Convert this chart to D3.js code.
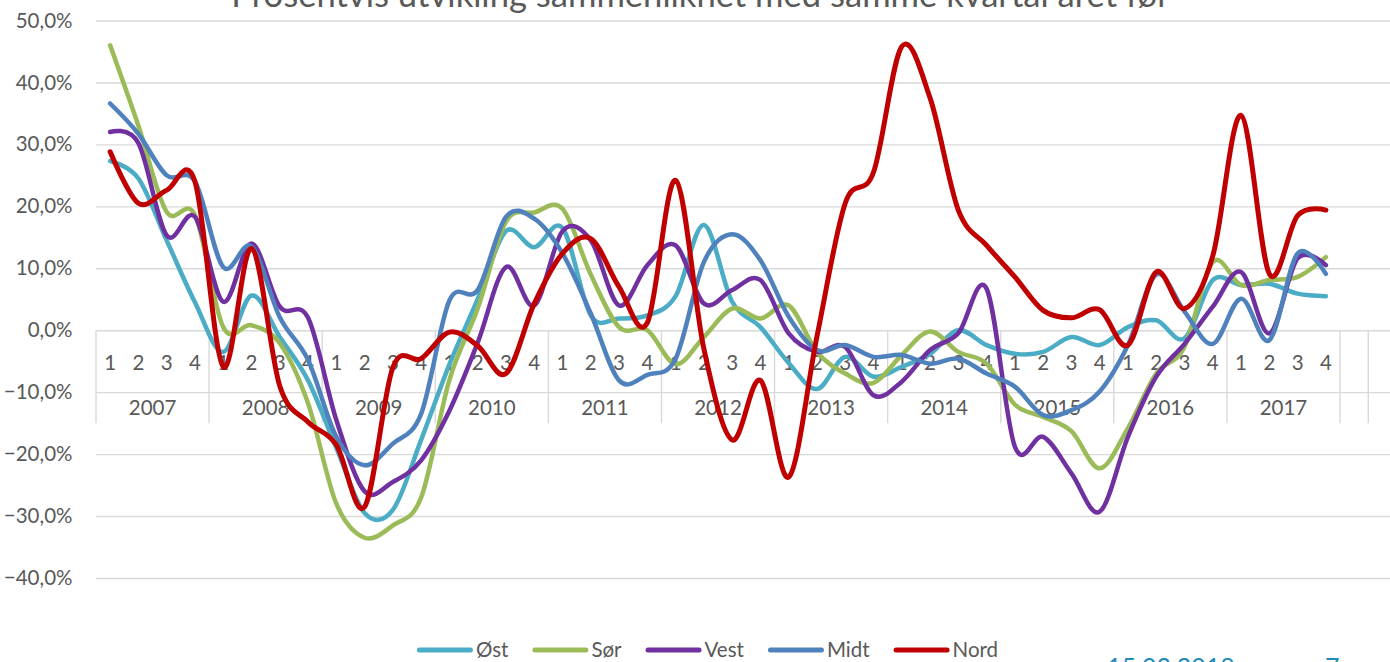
<!DOCTYPE html>
<html>
<head>
<meta charset="utf-8">
<script src="https://cdnjs.cloudflare.com/ajax/libs/d3/7.8.5/d3.min.js"></script>
<style>
  html, body { margin: 0; padding: 0; background: #fff; overflow: hidden; }
  svg { display: block; }
  text { font-family: Lato, "Open Sans", sans-serif; fill: #595959; }
</style>
</head>
<body>
<svg id="chart" width="1390" height="662"></svg>
<script>
// ---------- DATA ----------
const title = "Prosentvis utvikling sammenliknet med samme kvartal året før";
const years = ["2007","2008","2009","2010","2011","2012","2013","2014","2015","2016","2017"];
const quarters = ["1","2","3","4"];
const extraCategories = ["x1","x2"];            // empty trailing categories on the axis
const yTicks = [-40,-30,-20,-10,0,10,20,30,40,50];
const seriesNames = ["Øst","Sør","Vest","Midt","Nord"];
const seriesColors = ["#4BACC6","#9BBB59","#7030A0","#4F81BD","#C00000"];

const ost  = [27.3,24.5,14.5,4.5, -3.5,5.6,-1.1,-8.1, -19,-29.5,-29,-17.7, -5.5,5,16,13.4,
              16.5,2.4,1.9,2.4, 5.5,17,4.6,0.5, -5.3,-9.5,-4.3,-7.5, -5.9,-3.8,0,-2.4,
              -3.8,-3.5,-1.1,-2.4, 0.5,1.6,-1.3,8.1, 7.3,7.5,5.9,5.5];
const sor  = [46,33,19.1,18.6, 0.5,0.8,-2.1,-11.8, -28,-33.5,-31.5,-27, -8,3.5,17.5,19,
              19.6,9,0.5,0, -5.5,-1.1,3.5,1.9, 4,-3.5,-7,-8.5, -4,-0.2,-3.5,-5.4,
              -12,-14,-16.3,-22.3, -15.8,-7,-2.7,11, 7.3,8.1,8.6,11.8];
const vest = [32,30.2,15.3,18.3, 4.6,14,3.8,2, -14.5,-26,-24.5,-21, -13,-2,10.2,4,
              16,14.5,4,10.5, 13.7,4.3,6.5,8.1, -0.5,-3.5,-2.7,-10.5, -8.3,-3.2,-0.5,6.7,
              -18.8,-17.2,-23.1,-29.3, -17.2,-7.5,-2.2,3.8, 9.4,-0.5,11.6,10.5];
const midt = [36.6,31.7,25,24, 10.2,13.5,2.1,-4.8, -17.2,-21.8,-18.3,-13.5, 4.8,6.5,18.3,18,
              12.4,2.7,-8.1,-7.2, -4.6,11,15.5,11.3, 2.2,-3.2,-2.4,-4.3, -4,-5.4,-4.6,-7,
              -9.1,-13.7,-12.9,-9.9, -2.4,9,3,-2.2, 5.1,-1.6,12.4,9.1];
const nord = [28.8,20.5,22.6,24, -5.9,13.2,-9,-14.8, -18.5,-28.5,-6,-4.6, -0.3,-2.5,-7,4.3,
              12.4,14.8,7,1.2, 24.2,-3,-17.7,-8.1, -23.7,-1,20.5,25.5, 45.8,37.5,19.4,13.7,
              8.6,3.2,2,3.3, -2.4,9.4,3.5,12, 34.7,9.1,18.5,19.4];
const seriesValues = [ost, sor, vest, midt, nord];

// ---------- LAYOUT ----------
const svg = d3.select("#chart");
const W = 1390, H = 662;
const plotLeft = 96, quarterW = 28.273;
const categories = years.flatMap(y => quarters.map(q => y + "-" + q)).concat(extraCategories);

const x = d3.scaleBand().domain(categories)
  .range([plotLeft, plotLeft + categories.length * quarterW]).padding(0);
const xc = c => x(c) + x.bandwidth() / 2;
const yearScale = d3.scaleBand().domain(years)
  .range([plotLeft, plotLeft + years.length * 4 * quarterW]).padding(0);
const y = d3.scaleLinear().domain([-40, 50]).range([578, 20.5]);

const fmt = v => d3.format(".1f")(v).replace(".", ",") + "%";

// gridlines + y labels
const yAxis = d3.axisLeft(y).tickValues(yTicks).tickFormat(fmt)
  .tickSize(-(W - plotLeft + 20)).tickPadding(23.5);
const gy = svg.append("g").attr("transform", `translate(${plotLeft},0)`).call(yAxis);
gy.select(".domain").remove();
gy.selectAll(".tick line").attr("stroke", "#d9d9d9").attr("stroke-width", 1.4);
gy.selectAll(".tick text").style("font-size", "20.5px").attr("fill", "#595959")
  .style("font-family", "Lato, sans-serif");

// category separators (year groups + empty trailing categories)
const y0 = y(0);
const bounds = years.map(yr => yearScale(yr))
  .concat([plotLeft + years.length * 4 * quarterW])
  .concat(extraCategories.map(c => x(c) + x.bandwidth()));
svg.append("g").selectAll("line").data(bounds).join("line")
  .attr("x1", d => d).attr("x2", d => d)
  .attr("y1", y0).attr("y2", y0 + 93)
  .attr("stroke", "#d9d9d9").attr("stroke-width", 1.4);

// quarter labels
const qAxis = d3.axisBottom(x).tickSize(0).tickPadding(25)
  .tickFormat(c => c.includes("-") ? c.split("-")[1] : "");
const gq = svg.append("g").attr("transform", `translate(0,${y0})`).call(qAxis);
gq.select(".domain").remove();
gq.selectAll(".tick text").style("font-size", "20.5px").attr("fill", "#595959")
  .style("font-family", "Lato, sans-serif");

// year labels
const yrAxis = d3.axisBottom(yearScale).tickSize(0).tickPadding(70.5);
const gyr = svg.append("g").attr("transform", `translate(0,${y0})`).call(yrAxis);
gyr.select(".domain").remove();
gyr.selectAll(".tick text").style("font-size", "20.5px").attr("fill", "#595959")
  .style("font-family", "Lato, sans-serif");

// lines
const line = d3.line()
  .x((d, i) => xc(categories[i]))
  .y(d => y(d))
  .curve(d3.curveCardinal.tension(0));
svg.append("g").selectAll("path").data(seriesValues).join("path")
  .attr("d", d => line(d))
  .attr("fill", "none")
  .attr("stroke", (d, i) => seriesColors[i])
  .attr("stroke-width", (d, i) => i === 4 ? 5 : 4.5)
  .attr("stroke-linejoin", "round")
  .attr("stroke-linecap", "round");

// title (cut at top as in reference)
const t = svg.append("text").text(title)
  .attr("text-anchor", "middle").attr("x", 700.5).attr("y", 6.5)
  .style("font-size", "30px").attr("fill", "#595959");
const tw = t.node().getComputedTextLength();
t.style("font-size", (30 * 939 / tw).toFixed(2) + "px");

// legend
const legend = svg.append("g");
const legFs = 20.5, sw = 56, gapT = 3, gapItem = 24, legY = 650;
let items = seriesNames.map((n, i) => ({ name: n, color: seriesColors[i] }));
const tmp = legend.append("text").style("font-size", legFs + "px");
items.forEach(it => { tmp.text(it.name); it.w = tmp.node().getComputedTextLength(); });
tmp.remove();
const total = d3.sum(items, it => sw + gapT + it.w) + gapItem * (items.length - 1);
let cx = 707.5 - total / 2;
items.forEach(it => {
  legend.append("line").attr("x1", cx + 2.5).attr("x2", cx + sw - 2.5)
    .attr("y1", legY).attr("y2", legY)
    .attr("stroke", it.color).attr("stroke-width", 5).attr("stroke-linecap", "round");
  legend.append("text").attr("x", cx + sw + gapT).attr("y", legY).attr("dy", "0.36em")
    .style("font-size", legFs + "px").text(it.name);
  cx += sw + gapT + it.w + gapItem;
});

// footer (cut at bottom, as in the reference)
svg.append("text").attr("x", 1107).attr("y", 676).style("font-size", "25px")
  .style("fill", "#1F8BB6").text("15.03.2018");
svg.append("text").attr("x", 1325).attr("y", 676).style("font-size", "25px")
  .style("fill", "#1F8BB6").text("7");
</script>
</body>
</html>
